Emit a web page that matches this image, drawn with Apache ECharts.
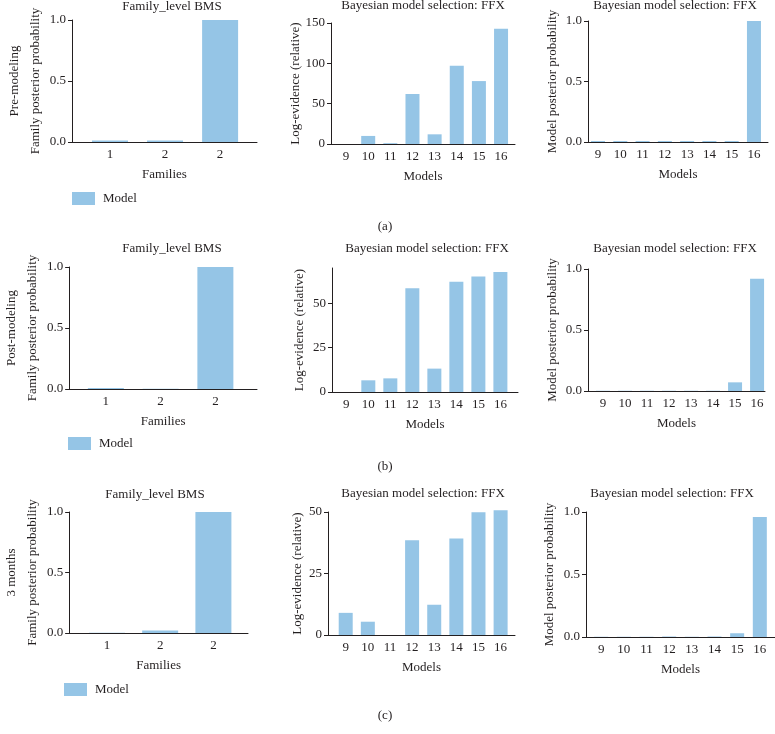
<!DOCTYPE html>
<html>
<head>
<meta charset="utf-8">
<script src="https://cdn.jsdelivr.net/npm/echarts@6/dist/echarts.min.js"></script>
<style>
  html, body { margin: 0; padding: 0; background: #fff; }
  #container { width: 775px; height: 734px; }
</style>
</head>
<body>
<div id="container"></div>
<script>
// categories
var famCats = ['1', '2', '2'];
var modelCats = ['9', '10', '11', '12', '13', '14', '15', '16'];

// (a) pre-modeling
var famPre = [0.012, 0.012, 1.0];
var logevPre = [0, 10, 1, 62, 12, 97, 78, 143];
var probPre = [0.008, 0.008, 0.008, 0.008, 0.008, 0.008, 0.008, 1.0];

// (b) post-modeling
var famPost = [0.008, 0.003, 1.0];
var logevPost = [0, 6.6, 7.7, 58.6, 13.2, 62.2, 65.2, 67.7];
var probPost = [0.002, 0.002, 0.002, 0.002, 0.002, 0.002, 0.071, 0.92];

// (c) 3 months
var fam3m = [0.003, 0.02, 1.0];
var logev3m = [9, 5.4, 0, 38.5, 12.3, 39.2, 49.9, 50.7];
var prob3m = [0.002, 0.002, 0.002, 0.004, 0.002, 0.004, 0.03, 0.96];

// y tick labels
var probTicks = [0, 0.5, 1];
var logevTicksPre = [0, 50, 100, 150];
var logevTicksPost = [0, 25, 50];
var logevTicks3m = [0, 25, 50];

var FONT = 'Liberation Serif';
var FS = 13;
var BAR = '#95c5e6';
var INK = '#231f20';

var panels = [
  { box: [72, 20, 185, 122], cats: famCats, data: famPre, xr: [-0.69, 2.67], bw: 36, ymax: 1, ticks: probTicks, yname: 'Pre-modeling\nFamily posterior probability', gap: 26, xname: 'Families', title: 'Family_level BMS', tx: 172, ty: 7, sname: 'Model' },
  { box: [331, 23, 184, 121], cats: modelCats, data: logevPre, xr: [-0.68, 7.63], bw: 14, ymax: 150, ticks: logevTicksPre, yname: 'Log-evidence (relative)', gap: 27, xname: 'Models', title: 'Bayesian model selection: FFX', tx: 423, ty: 6, sname: 'logev-a' },
  { box: [588, 21, 180, 121], cats: modelCats, data: probPre, xr: [-0.45, 7.63], bw: 14, ymax: 1, ticks: probTicks, yname: 'Model posterior probability', gap: 29, xname: 'Models', title: 'Bayesian model selection: FFX', tx: 675, ty: 6, sname: 'prob-a' },

  { box: [68, 267, 189, 122], cats: famCats, data: famPost, xr: [-0.67, 2.76], bw: 36, ymax: 1, ticks: probTicks, yname: 'Post-modeling\nFamily posterior probability', gap: 25, xname: 'Families', title: 'Family_level BMS', tx: 172, ty: 249, sname: 'Model' },
  { box: [332, 268, 186, 124], cats: modelCats, data: logevPost, xr: [-0.65, 7.8], bw: 14, ymax: 70, ticks: logevTicksPost, yname: 'Log-evidence (relative)', gap: 26, xname: 'Models', title: 'Bayesian model selection: FFX', tx: 427, ty: 249, sname: 'logev-b' },
  { box: [588, 269, 177, 122], cats: modelCats, data: probPost, xr: [-0.68, 7.36], bw: 14, ymax: 1, ticks: probTicks, yname: 'Model posterior probability', gap: 29, xname: 'Models', title: 'Bayesian model selection: FFX', tx: 675, ty: 249, sname: 'prob-b' },

  { box: [63, 512, 185, 121], cats: famCats, data: fam3m, xr: [-0.71, 2.65], bw: 36, ymax: 1, ticks: probTicks, yname: '3 months\nFamily posterior probability', gap: 23, xname: 'Families', title: 'Family_level BMS', tx: 155, ty: 495, sname: 'Model' },
  { box: [328, 512, 187, 123], cats: modelCats, data: logev3m, xr: [-0.8, 7.65], bw: 14, ymax: 50, ticks: logevTicks3m, yname: 'Log-evidence (relative)', gap: 24, xname: 'Models', title: 'Bayesian model selection: FFX', tx: 423, ty: 494, sname: 'logev-c' },
  { box: [586, 512, 189, 125], cats: modelCats, data: prob3m, xr: [-0.67, 7.67], bw: 14, ymax: 1, ticks: probTicks, yname: 'Model posterior probability', gap: 30, xname: 'Models', title: 'Bayesian model selection: FFX', tx: 672, ty: 494, sname: 'prob-c' }
];

var legends = [
  { left: 72, top: 192 },
  { left: 68, top: 437 },
  { left: 64, top: 683 }
];

var subLabels = [
  { text: '(a)', x: 385, y: 227 },
  { text: '(b)', x: 385, y: 467 },
  { text: '(c)', x: 385, y: 716 }
];

var grid = [], xAxis = [], yAxis = [], series = [], graphic = [];

panels.forEach(function (p, i) {
  grid.push({ left: p.box[0], top: p.box[1], width: p.box[2], height: p.box[3], containLabel: false });
  var idx = p.cats.map(function (c, k) { return k; });
  var multi = p.yname.indexOf('\n') >= 0;
  xAxis.push({
    gridIndex: i,
    type: 'value',
    min: p.xr[0],
    max: p.xr[1],
    name: p.xname,
    nameLocation: 'middle',
    nameGap: 26,
    nameTextStyle: { fontFamily: FONT, fontSize: FS, color: INK },
    axisLine: { show: true, onZero: false, lineStyle: { color: INK, width: 1 } },
    axisTick: { show: false },
    splitLine: { show: false },
    axisLabel: {
      customValues: idx,
      margin: 6,
      fontFamily: FONT,
      fontSize: FS,
      color: INK,
      formatter: function (v) { return p.cats[Math.round(v)]; }
    }
  });
  var isProb = p.ymax === 1;
  yAxis.push({
    gridIndex: i,
    type: 'value',
    min: 0,
    max: p.ymax,
    name: p.yname,
    nameLocation: 'middle',
    nameGap: p.gap,
    nameTextStyle: multi
      ? { fontFamily: FONT, fontSize: FS, color: INK, lineHeight: 21 }
      : { fontFamily: FONT, fontSize: FS, color: INK },
    axisLine: { show: true, onZero: false, lineStyle: { color: INK, width: 1 } },
    axisTick: { show: true, length: 4, customValues: p.ticks, lineStyle: { color: INK } },
    splitLine: { show: false },
    axisLabel: {
      customValues: p.ticks,
      margin: 6,
      fontFamily: FONT,
      fontSize: FS,
      color: INK,
      formatter: function (v) { return isProb ? v.toFixed(1) : String(v); }
    }
  });
  series.push({
    name: p.sname,
    type: 'bar',
    xAxisIndex: i,
    yAxisIndex: i,
    barWidth: p.bw,
    clip: false,
    itemStyle: { color: BAR },
    data: p.data.map(function (v, k) { return [k, v]; })
  });
  graphic.push({
    type: 'text',
    x: p.tx,
    y: p.ty,
    style: {
      text: p.title,
      align: 'center', verticalAlign: 'middle',
      textAlign: 'center', textVerticalAlign: 'middle',
      fontFamily: FONT, fontSize: FS, fill: INK
    }
  });
});

subLabels.forEach(function (s) {
  graphic.push({
    type: 'text',
    x: s.x,
    y: s.y,
    style: {
      text: s.text,
      align: 'center', verticalAlign: 'middle',
      textAlign: 'center', textVerticalAlign: 'middle',
      fontFamily: FONT, fontSize: FS, fill: INK
    }
  });
});

var legend = legends.map(function (l) {
  return {
    left: l.left,
    top: l.top,
    padding: 0,
    data: ['Model'],
    icon: 'rect',
    itemWidth: 23,
    itemHeight: 13,
    selectedMode: false,
    textStyle: { fontFamily: FONT, fontSize: FS, color: INK, padding: [0, 0, 0, 3] }
  };
});

var myChart = echarts.init(document.getElementById('container'));
myChart.setOption({
  animation: false,
  backgroundColor: '#fff',
  grid: grid,
  xAxis: xAxis,
  yAxis: yAxis,
  legend: legend,
  graphic: graphic,
  series: series
});
</script>
</body>
</html>
